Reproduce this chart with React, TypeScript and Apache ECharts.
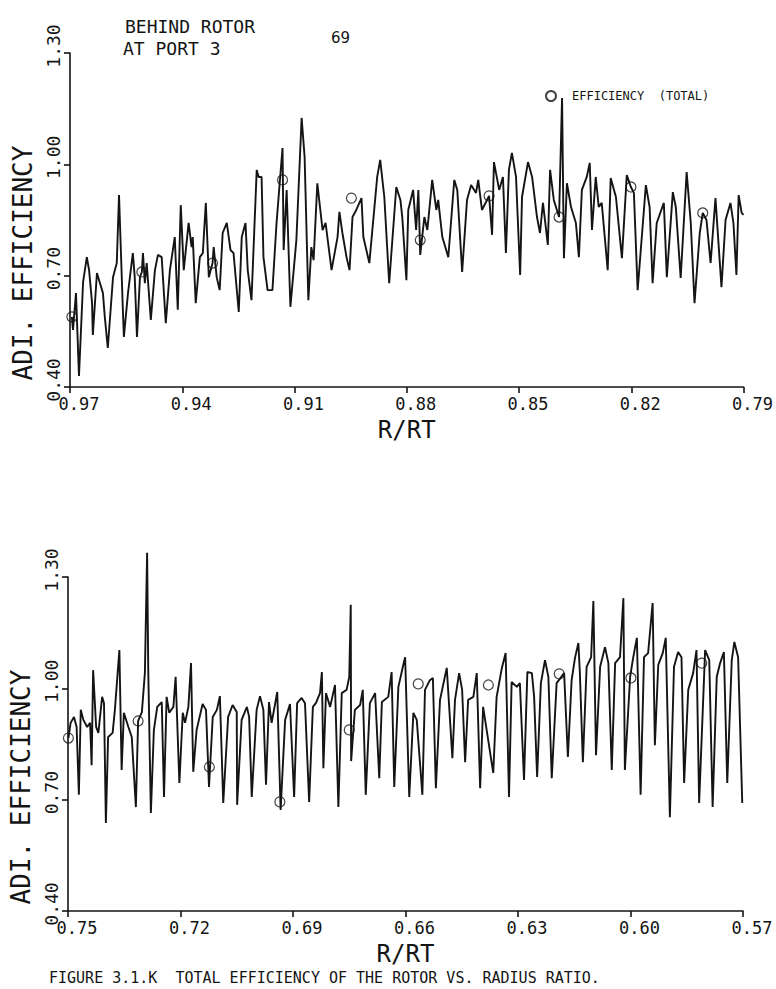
import React, { useEffect, useRef } from "react";
import * as echarts from "echarts";

// ---------- data ----------
const topR = [
  0.9695, 0.9692, 0.9684, 0.9676, 0.9665, 0.9655, 0.9649, 0.9641, 0.9639, 0.9628,
  0.962, 0.9612, 0.9607, 0.9599, 0.9585, 0.9575, 0.9569, 0.9559, 0.9556, 0.9545,
  0.9532, 0.9527, 0.9521, 0.9513, 0.9508, 0.9505, 0.95, 0.9495, 0.9484, 0.9473,
  0.9465, 0.9455, 0.9444, 0.9433, 0.942, 0.9412, 0.9404, 0.9396, 0.9383, 0.9375,
  0.9372, 0.9364, 0.9353, 0.9345, 0.9337, 0.9329, 0.9319, 0.9316, 0.9308, 0.93,
  0.9292, 0.9281, 0.9271, 0.9263, 0.9249, 0.9241, 0.9231, 0.9225, 0.9215, 0.9201,
  0.9196, 0.9188, 0.9183, 0.9172, 0.9159, 0.9148, 0.914, 0.9132, 0.9129, 0.9121,
  0.9111, 0.9095, 0.9081, 0.9073, 0.9063, 0.9055, 0.9049, 0.9039, 0.9025, 0.9017,
  0.9001, 0.8985, 0.898, 0.8972, 0.8961, 0.8953, 0.8945, 0.8935, 0.8921, 0.8916,
  0.89, 0.8879, 0.8871, 0.886, 0.8847, 0.8828, 0.8817, 0.8812, 0.8801, 0.8796,
  0.8783, 0.8775, 0.8769, 0.8764, 0.8753, 0.8745, 0.8732, 0.8721, 0.8716, 0.8705,
  0.8689, 0.8673, 0.8665, 0.8652, 0.8639, 0.8628, 0.8615, 0.8609, 0.8599, 0.858,
  0.8572, 0.8567, 0.8553, 0.8543, 0.8535, 0.8527, 0.8519, 0.8508, 0.8497, 0.8492,
  0.8476, 0.8465, 0.8452, 0.8444, 0.8436, 0.8423, 0.8417, 0.8407, 0.8393, 0.8385,
  0.838, 0.8372, 0.8361, 0.8348, 0.834, 0.8332, 0.8319, 0.8311, 0.8305, 0.8295,
  0.8287, 0.8279, 0.8263, 0.8255, 0.8241, 0.8225, 0.8212, 0.8201, 0.8193, 0.8183,
  0.8161, 0.8151, 0.8143, 0.8132, 0.8113, 0.8105, 0.8089, 0.8081, 0.8068, 0.8052,
  0.8041, 0.8031, 0.8017, 0.8009, 0.7999, 0.7988, 0.7975, 0.7959, 0.7948, 0.7935,
  0.7927, 0.7919, 0.7913, 0.7905, 0.79,
];
const topEff = [
  0.589, 0.554, 0.653, 0.43, 0.683, 0.75, 0.715, 0.626, 0.54, 0.707,
  0.68, 0.653, 0.589, 0.505, 0.696, 0.734, 0.917, 0.616, 0.535, 0.653,
  0.761, 0.696, 0.535, 0.696, 0.71, 0.761, 0.68, 0.734, 0.581, 0.715,
  0.756, 0.75, 0.572, 0.715, 0.804, 0.608, 0.89, 0.715, 0.842, 0.777,
  0.804, 0.626, 0.75, 0.761, 0.896, 0.696, 0.734, 0.777, 0.696, 0.661,
  0.815, 0.842, 0.769, 0.761, 0.602, 0.804, 0.842, 0.715, 0.634, 0.985,
  0.966, 0.966, 0.75, 0.661, 0.661, 0.842, 0.944, 1.044, 0.769, 0.931,
  0.616, 0.796, 1.125, 1.02, 0.634, 0.777, 0.742, 0.949, 0.823, 0.842,
  0.715, 0.804, 0.872, 0.815, 0.75, 0.715, 0.858, 0.877, 0.909, 0.804,
  0.734, 0.966, 1.012, 0.912, 0.68, 0.939, 0.904, 0.858, 0.688, 0.877,
  0.931, 0.823, 0.931, 0.756, 0.858, 0.823, 0.958, 0.877, 0.904, 0.804,
  0.75, 0.958, 0.931, 0.71, 0.904, 0.944, 0.923, 0.958, 0.877, 0.915,
  0.81, 1.006, 0.931, 0.966, 0.761, 0.985, 1.031, 0.966, 0.702, 0.912,
  1.006, 0.966, 0.858, 0.815, 0.896, 0.783, 0.985, 0.904, 0.858, 1.179,
  0.747, 0.949, 0.885, 0.842, 0.75, 0.931, 0.966, 1.004, 0.823, 0.966,
  0.885, 0.896, 0.715, 0.963, 0.912, 0.747, 0.971, 0.939, 0.923, 0.661,
  0.944, 0.885, 0.68, 0.842, 0.896, 0.696, 0.925, 0.885, 0.694, 0.979,
  0.842, 0.626, 0.815, 0.869, 0.85, 0.734, 0.909, 0.669, 0.85, 0.896,
  0.842, 0.702, 0.917, 0.869, 0.864,
];
const topMarkR = [0.9695, 0.9508, 0.9319, 0.9132, 0.8948, 0.8764, 0.858, 0.8393, 0.8201, 0.8009];
const topMarkEff = [0.589, 0.71, 0.734, 0.958, 0.909, 0.796, 0.915, 0.858, 0.939, 0.869];

const botR = [
  0.7499, 0.7493, 0.7484, 0.7477, 0.7471, 0.7466, 0.7459, 0.7449, 0.7441, 0.7437,
  0.7433, 0.7425, 0.7419, 0.7409, 0.7404, 0.7399, 0.7393, 0.7381, 0.7375, 0.7363,
  0.7357, 0.7351, 0.7339, 0.733, 0.7319, 0.7313, 0.7303, 0.7295, 0.7289, 0.7286,
  0.7279, 0.7271, 0.7262, 0.725, 0.7244, 0.7237, 0.723, 0.7219, 0.7213, 0.7203,
  0.7194, 0.7188, 0.7179, 0.7172, 0.7166, 0.7157, 0.7141, 0.7132, 0.7124, 0.7114,
  0.7103, 0.7095, 0.7086, 0.7073, 0.7061, 0.705, 0.7049, 0.7037, 0.7023, 0.7017,
  0.701, 0.6997, 0.6988, 0.6979, 0.6972, 0.6964, 0.6957, 0.6942, 0.6933, 0.6921,
  0.6908, 0.6897, 0.6889, 0.6877, 0.6868, 0.6857, 0.6847, 0.6839, 0.6828, 0.6823,
  0.6819, 0.6812, 0.6801, 0.6788, 0.6779, 0.677, 0.6757, 0.675, 0.6746, 0.6745,
  0.6735, 0.6721, 0.6714, 0.6706, 0.6695, 0.6681, 0.667, 0.6663, 0.6646, 0.6637,
  0.663, 0.6619, 0.6607, 0.6601, 0.659, 0.6579, 0.657, 0.6555, 0.6548, 0.6535,
  0.6527, 0.6519, 0.6508, 0.649, 0.6475, 0.6468, 0.6457, 0.6449, 0.6441, 0.6433,
  0.6419, 0.641, 0.6401, 0.6393, 0.6366, 0.6357, 0.6343, 0.6333, 0.6324, 0.6317,
  0.6303, 0.6295, 0.6284, 0.6275, 0.6263, 0.6257, 0.6249, 0.6239, 0.6228, 0.6219,
  0.621, 0.6197, 0.6177, 0.6167, 0.6157, 0.6148, 0.6139, 0.6135, 0.6127, 0.6117,
  0.6105, 0.6099, 0.6092, 0.6081, 0.6068, 0.6059, 0.605, 0.6041, 0.6028, 0.6019,
  0.6015, 0.6001, 0.5993, 0.5983, 0.5973, 0.5964, 0.5953, 0.5941, 0.5935, 0.5926,
  0.5914, 0.5906, 0.5895, 0.5884, 0.5873, 0.5864, 0.5857, 0.5846, 0.5833, 0.5824,
  0.5817, 0.5801, 0.579, 0.5781, 0.577, 0.5761, 0.5751, 0.5742, 0.573, 0.5723,
  0.5713, 0.5702,
];
const botEff = [
  0.866, 0.907, 0.923, 0.896, 0.713, 0.942, 0.915, 0.896, 0.907, 0.793,
  1.049, 0.896, 0.88, 0.977, 0.96, 0.637, 0.869, 0.88, 0.942, 1.103,
  0.78, 0.934, 0.896, 0.869, 0.68, 0.912, 0.936, 1.041, 1.365, 1.049,
  0.664, 0.888, 0.95, 0.963, 0.707, 0.977, 0.934, 0.95, 1.031, 0.745,
  0.934, 0.907, 0.95, 1.068, 0.775, 0.888, 0.958, 0.942, 0.734, 0.923,
  0.942, 0.979, 0.691, 0.923, 0.955, 0.936, 0.686, 0.915, 0.95, 0.923,
  0.707, 0.942, 0.979, 0.942, 0.74, 0.963, 0.907, 0.99, 0.672, 0.915,
  0.958, 0.707, 0.96, 0.974, 0.96, 0.694, 0.95, 0.96, 0.987, 1.044,
  0.785, 0.987, 0.95, 1.009, 0.68, 0.987, 0.996, 1.031, 1.225, 0.804,
  0.942, 0.955, 0.996, 0.713, 0.96, 0.987, 0.758, 0.963, 0.977, 1.044,
  0.734, 1.004, 1.058, 1.084, 0.707, 0.934, 0.915, 0.713, 0.996, 1.022,
  1.028, 0.731, 0.969, 1.055, 0.812, 0.969, 1.041, 0.996, 0.801, 0.969,
  0.977, 1.041, 0.731, 0.95, 0.772, 0.977, 1.055, 1.095, 0.707, 1.017,
  1.004, 1.014, 0.753, 1.044, 1.041, 0.977, 0.761, 1.014, 1.076, 1.031,
  0.758, 1.014, 1.041, 0.815, 1.022, 1.082, 1.122, 1.041, 0.801, 1.058,
  1.084, 1.235, 0.82, 1.058, 1.111, 1.068, 0.78, 1.068, 1.084, 1.243,
  0.78, 1.031, 1.082, 1.136, 0.713, 1.084, 1.095, 1.23, 0.847, 1.063,
  1.095, 1.136, 0.653, 1.058, 1.098, 1.084, 0.745, 0.996, 1.041, 1.103,
  0.691, 1.103, 1.076, 0.68, 1.031, 1.068, 1.098, 0.745, 1.076, 1.125,
  1.084, 0.691,
];
const botMarkR = [0.7499, 0.7313, 0.7123, 0.6935, 0.675, 0.6566, 0.6379, 0.619, 0.5999, 0.581];
const botMarkEff = [0.866, 0.912, 0.788, 0.694, 0.888, 1.012, 1.009, 1.039, 1.028, 1.068];

// axis ranges / tick steps
const topXRange = [0.79, 0.97];
const botXRange = [0.57, 0.75];
const xStep = 0.03;
const yRange = [0.4, 1.3];
const yStep = 0.3;

const SERIES_NAME = "EFFICIENCY  (TOTAL)";
const X_NAME = "R/RT";
const Y_NAME = "ADI. EFFICIENCY";
const TITLE_1 = "BEHIND ROTOR";
const TITLE_2 = "AT PORT 3";
const PAGE_NO = "69";
const CAPTION = "FIGURE 3.1.K  TOTAL EFFICIENCY OF THE ROTOR VS. RADIUS RATIO.";

const MONO = "'DejaVu Sans Mono', 'Liberation Mono', monospace";
const INK = "#141414";

const pairs = (xs: number[], ys: number[]) => xs.map((x, i) => [x, ys[i]]);

function xAxis(gridIndex: number, range: number[]) {
  return {
    type: "value",
    gridIndex,
    min: range[0],
    max: range[1],
    interval: xStep,
    inverse: true,
    name: X_NAME,
    nameLocation: "middle",
    nameGap: 31,
    nameTextStyle: { fontFamily: MONO, fontSize: 24, color: INK, lineHeight: 24 },
    axisLine: { show: true, onZero: false, lineStyle: { color: INK, width: 1.6 } },
    axisTick: { show: true, length: 6, lineStyle: { color: INK, width: 1.6 } },
    axisLabel: {
      fontFamily: MONO,
      fontSize: 17,
      lineHeight: 17,
      color: INK,
      margin: 8,
      padding: [0, 0, 0, 18],
      formatter: (v: number) => v.toFixed(2),
    },
    splitLine: { show: false },
  };
}

function yAxis(gridIndex: number) {
  return {
    type: "value",
    gridIndex,
    min: yRange[0],
    max: yRange[1],
    interval: yStep,
    name: Y_NAME,
    nameLocation: "middle",
    nameRotate: 90,
    nameGap: 26,
    nameTextStyle: { fontFamily: MONO, fontSize: 26, color: INK, padding: [0, 86, 0, 0] },
    axisLine: { show: true, onZero: false, lineStyle: { color: INK, width: 1.6 } },
    axisTick: { show: true, length: 6, lineStyle: { color: INK, width: 1.6 } },
    axisLabel: {
      rotate: 90,
      fontFamily: MONO,
      fontSize: 18,
      color: INK,
      margin: 8,
      padding: [0, 0, 0, 14],
      formatter: (v: number) => v.toFixed(2),
    },
    splitLine: { show: false },
  };
}

function lineSeries(idx: number, xs: number[], ys: number[]) {
  return {
    type: "line",
    xAxisIndex: idx,
    yAxisIndex: idx,
    data: pairs(xs, ys),
    symbol: "none",
    clip: false,
    lineStyle: { color: INK, width: 1.9 },
    z: 2,
  };
}

function markSeries(idx: number, xs: number[], ys: number[]) {
  return {
    type: "scatter",
    name: SERIES_NAME,
    xAxisIndex: idx,
    yAxisIndex: idx,
    data: pairs(xs, ys),
    symbol: "circle",
    symbolSize: 10,
    itemStyle: { color: "rgba(0,0,0,0)", borderColor: INK, borderWidth: 1.2 },
    z: 3,
  };
}

export default function App() {
  const ref = useRef<HTMLDivElement>(null);
  useEffect(() => {
    if (!ref.current) return;
    const chart = echarts.init(ref.current, null, { renderer: "svg" });
    chart.setOption({
      animation: false,
      backgroundColor: "#ffffff",
      grid: [
        { left: 70, top: 53, width: 675, height: 334 },
        { left: 68, top: 577, width: 675, height: 334 },
      ],
      xAxis: [xAxis(0, topXRange), xAxis(1, botXRange)],
      yAxis: [yAxis(0), yAxis(1)],
      legend: {
        data: [{ name: SERIES_NAME, icon: "circle" }],
        left: 540,
        top: 85,
        itemWidth: 10,
        itemHeight: 10,
        selectedMode: false,
        textStyle: { fontFamily: MONO, fontSize: 12, lineHeight: 12, color: INK, padding: [0, 0, 0, 11] },
      },
      series: [
        lineSeries(0, topR, topEff),
        markSeries(0, topMarkR, topMarkEff),
        lineSeries(1, botR, botEff),
        markSeries(1, botMarkR, botMarkEff),
      ],
      graphic: [
        { type: "text", left: 125, top: 17, style: { text: TITLE_1, font: `18px ${MONO}`, fill: INK } },
        { type: "text", left: 123, top: 39, style: { text: TITLE_2, font: `18px ${MONO}`, fill: INK } },
        { type: "text", left: 331, top: 30, style: { text: PAGE_NO, font: `15px 'DejaVu Sans', sans-serif`, fill: INK } },
        { type: "text", left: 49, top: 970, style: { text: CAPTION, font: `15px ${MONO}`, fill: INK } },
      ],
    });
    return () => chart.dispose();
  }, []);
  return (
    <div
      ref={ref}
      style={{ position: "absolute", left: 0, top: 0, width: 776, height: 989, background: "#fff" }}
    />
  );
}
